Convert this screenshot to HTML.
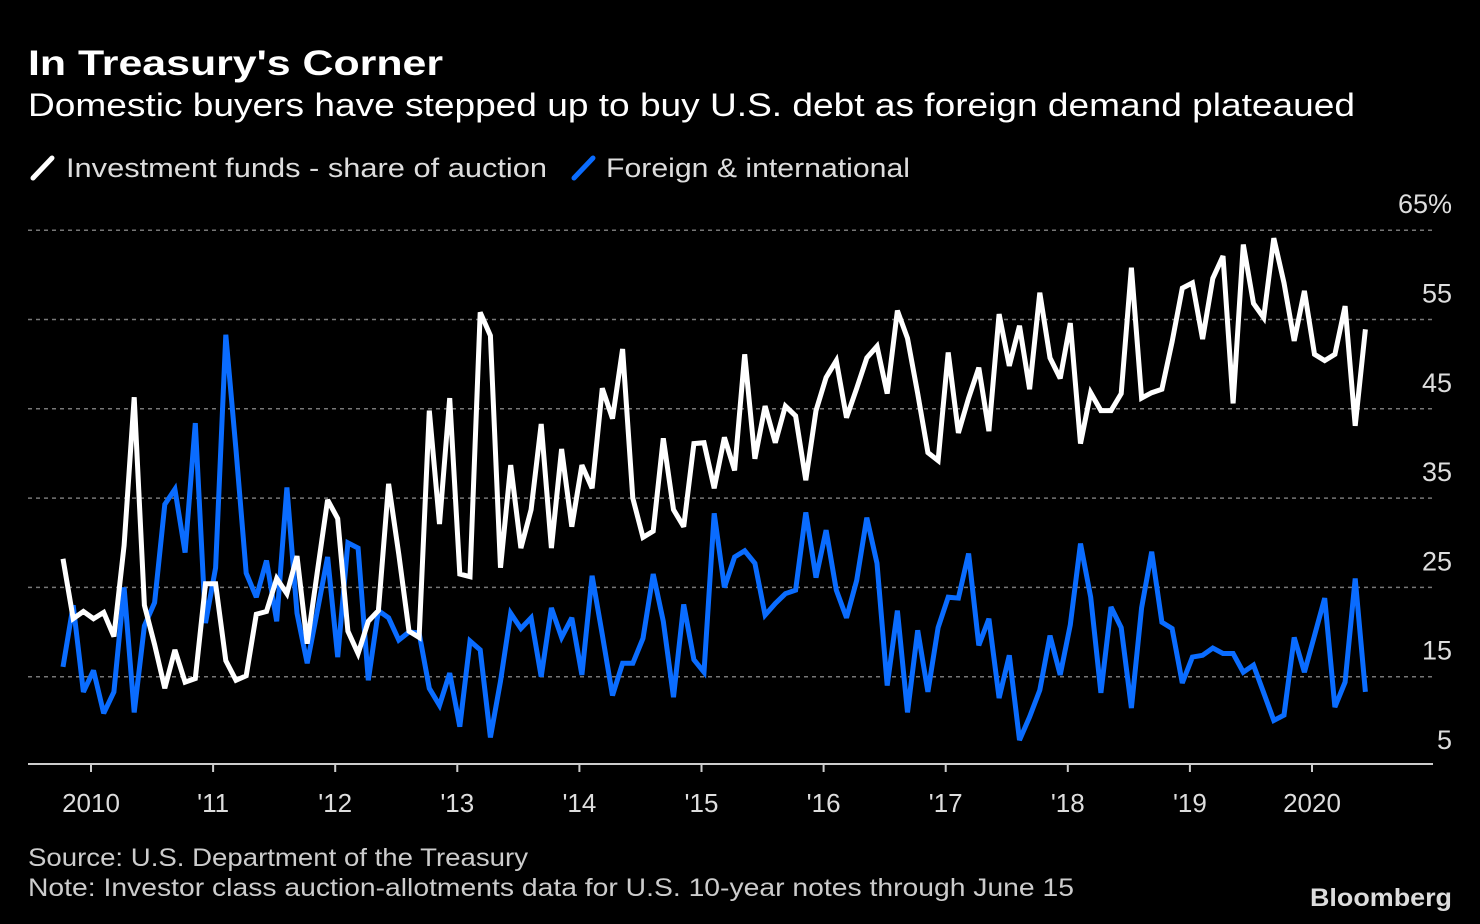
<!DOCTYPE html>
<html><head><meta charset="utf-8"><style>
html,body{margin:0;padding:0;background:#000;}
svg{display:block;font-family:"Liberation Sans",sans-serif;}
</style></head><body>
<svg id="chart" width="1480" height="924" viewBox="0 0 1480 924" xmlns="http://www.w3.org/2000/svg">
<rect width="1480" height="924" fill="#000"/>
<text x="28" y="75" fill="#fff" font-size="35" font-weight="bold" textLength="415" lengthAdjust="spacingAndGlyphs">In Treasury's Corner</text>
<text x="28" y="116" fill="#fff" font-size="32" textLength="1327" lengthAdjust="spacingAndGlyphs">Domestic buyers have stepped up to buy U.S. debt as foreign demand plateaued</text>
<g>
<line x1="33" y1="178" x2="52" y2="158" stroke="#fff" stroke-width="5" stroke-linecap="round"/>
<text x="66" y="177" fill="#ddd" font-size="27" textLength="481" lengthAdjust="spacingAndGlyphs">Investment funds - share of auction</text>
<line x1="574" y1="178" x2="593" y2="158" stroke="#0a6cff" stroke-width="5" stroke-linecap="round"/>
<text x="606" y="177" fill="#ddd" font-size="27" textLength="304" lengthAdjust="spacingAndGlyphs">Foreign &amp; international</text>
</g>
<g id="grid"></g>
<g id="series"></g>
<g id="xaxis"></g>
<text x="28" y="866" fill="#ccc" font-size="25" textLength="500" lengthAdjust="spacingAndGlyphs">Source: U.S. Department of the Treasury</text>
<text x="28" y="896" fill="#ccc" font-size="25" textLength="1046" lengthAdjust="spacingAndGlyphs">Note: Investor class auction-allotments data for U.S. 10-year notes through June 15</text>
<text x="1452" y="906" fill="#ddd" font-size="25" font-weight="bold" text-anchor="end" textLength="142" lengthAdjust="spacingAndGlyphs">Bloomberg</text>
</svg>
<script>
const yTicks = [5, 15, 25, 35, 45, 55, 65];
const yTickLabels = ["5", "15", "25", "35", "45", "55", "65%"];
const xTickYears = [2010, 2011, 2012, 2013, 2014, 2015, 2016, 2017, 2018, 2019, 2020];
const xTickLabels = ["2010", "'11", "'12", "'13", "'14", "'15", "'16", "'17", "'18", "'19", "2020"];
const startYear = 2009, startMonth = 9.25; // mid-Oct 2009 (0-based month)
const investmentFunds = [28.2,21.5,22.3,21.5,22.2,19.5,29.7,46.3,23,18.6,13.7,18,14.4,14.8,25.4,25.4,16.8,14.6,15.1,22,22.3,26,24.3,28.5,18.7,26.8,34.8,32.7,20.1,17.6,21.2,22.4,36.6,28.7,20.1,19.4,44.8,32.1,46.2,26.5,26.2,55.8,53.2,27.2,38.7,29.4,33.7,43.3,29.4,40.5,31.8,38.7,36.1,47.3,43.9,51.7,35,30.6,31.3,41.7,33.7,31.8,41.1,41.2,36.1,41.8,38.1,51.1,39.4,45.3,41.2,45.3,44.2,37,44.8,48.5,50.4,44,47.3,50.7,52,46.7,56,52.9,46.7,40.1,39.2,51.3,42.3,46.2,49.6,42.5,55.6,49.8,54.3,47.2,58,50.7,48.4,54.6,41.1,46.8,44.8,44.8,46.7,60.8,46.2,46.8,47.2,52.5,58.5,59.1,52.8,59.6,62.1,45.6,63.4,56.8,55.2,64.1,59.1,52.6,58.2,51.1,50.4,51.1,56.5,43.1,53.9];
const foreignIntl = [16.1,23,13.3,15.7,10.9,13.3,25,11,20.7,23.3,34.3,36,28.9,43.4,21,27.2,53.3,40.4,26.6,23.9,28,21.2,36.2,22.1,16.5,22.4,28.4,17.2,30,29.4,14.6,22.4,21.6,19.1,20,19.9,13.7,11.8,15.4,9.4,19,18,8.2,14.5,22.1,20.4,21.6,15,22.7,19.4,21.6,15.2,26.3,19.7,12.9,16.5,16.5,19.3,26.5,21.2,12.7,23.1,16.9,15.5,33.3,25,28.4,29.1,27.7,21.9,23.2,24.3,24.7,33.4,26.1,31.4,24.7,21.6,25.8,32.8,27.7,14,22.4,11,20.2,13.3,20.5,23.9,23.8,28.8,18.5,21.5,12.6,17.4,7.9,10.5,13.5,19.6,15.2,20.8,29.9,23.9,13.2,22.8,20.5,11.5,22.7,29,21.1,20.4,14.3,17.2,17.4,18.2,17.6,17.6,15.5,16.3,13.2,10.1,10.7,19.4,15.5,19.6,23.8,11.6,14.4,26,13.3];

const NS = "http://www.w3.org/2000/svg";
const plotL = 28, plotR = 1433, axisY = 764;
function yScale(v){ return 766 - (v - 5) * 8.93; }
function xScale(yearFrac){ return 91 + (yearFrac - 2010) * 122.1; }
function idxToYear(i){ return startYear + (startMonth + i) / 12; }

const grid = document.getElementById('grid');
yTicks.forEach((t, k) => {
  const y = yScale(t);
  if (t > 5) {
    const l = document.createElementNS(NS, 'line');
    
    
    l.setAttribute('x1', plotL); l.setAttribute('x2', plotR);
    l.setAttribute('y1', y); l.setAttribute('y2', y);
    l.setAttribute('stroke', '#777'); l.setAttribute('stroke-width', '1.5');
    l.setAttribute('stroke-dasharray', '4 4');
    grid.appendChild(l);
  }
  const tx = document.createElementNS(NS, 'text');
  
  
  tx.setAttribute('x', 1452); tx.setAttribute('y', y - 17);
  tx.setAttribute('text-anchor', 'end'); tx.setAttribute('fill', '#ddd');
  tx.setAttribute('font-size', '27');
  tx.textContent = yTickLabels[k];
  grid.appendChild(tx);
});

function drawSeries(vals, color, name){
  const p = document.createElementNS(NS, 'polyline');
  
  
  p.setAttribute('points', vals.map((v, i) => xScale(idxToYear(i)).toFixed(1) + ',' + yScale(v).toFixed(1)).join(' '));
  p.setAttribute('fill', 'none'); p.setAttribute('stroke', color);
  p.setAttribute('stroke-width', '5'); p.setAttribute('stroke-linejoin', 'miter');
  p.setAttribute('stroke-miterlimit', '3');
  document.getElementById('series').appendChild(p);
}
drawSeries(foreignIntl, '#0a6cff', 'foreign-international-line');
drawSeries(investmentFunds, '#ffffff', 'investment-funds-line');

const xa = document.getElementById('xaxis');
const ax = document.createElementNS(NS, 'line');


ax.setAttribute('x1', plotL); ax.setAttribute('x2', plotR);
ax.setAttribute('y1', axisY); ax.setAttribute('y2', axisY);
ax.setAttribute('stroke', '#ccc'); ax.setAttribute('stroke-width', '2');
xa.appendChild(ax);
xTickYears.forEach((yr, k) => {
  const x = xScale(yr);
  const tk = document.createElementNS(NS, 'line');
  
  
  tk.setAttribute('x1', x); tk.setAttribute('x2', x);
  tk.setAttribute('y1', axisY); tk.setAttribute('y2', axisY + 8);
  tk.setAttribute('stroke', '#ccc'); tk.setAttribute('stroke-width', '2');
  xa.appendChild(tk);
  const t = document.createElementNS(NS, 'text');
  
  
  t.setAttribute('x', x); t.setAttribute('y', 812);
  t.setAttribute('text-anchor', 'middle'); t.setAttribute('fill', '#ddd');
  t.setAttribute('font-size', '26');
  t.textContent = xTickLabels[k];
  xa.appendChild(t);
});
</script>
</body></html>
